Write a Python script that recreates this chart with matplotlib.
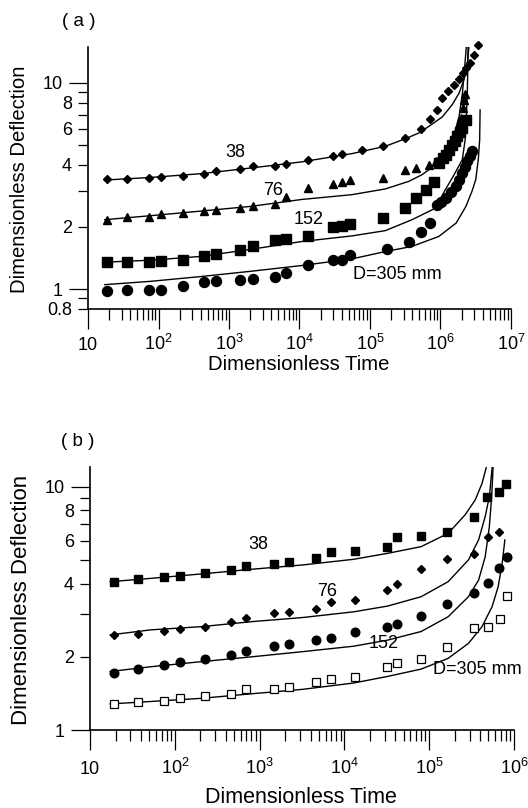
import matplotlib
matplotlib.use('Agg')
import matplotlib.pyplot as plt
from matplotlib.ticker import FixedLocator, FixedFormatter, FuncFormatter, NullFormatter

plt.rcParams['font.family'] = ['Liberation Sans', 'DejaVu Sans']
plt.rcParams['mathtext.default'] = 'regular'

# ---- panel (a) data ----
a38_t = [18.5, 35.6, 73, 109, 221, 440, 660, 1436, 2200, 4480, 6430, 13360, 29700, 39800,
         76900, 153000, 312000, 533000, 702000, 882000, 1.06e6, 1.29e6, 1.56e6, 1.83e6,
         2.09e6, 2.33e6, 2.63e6, 3.0e6, 3.4e6]
a38_y = [3.42, 3.42, 3.45, 3.50, 3.52, 3.63, 3.74, 3.82, 3.94, 3.97, 4.04, 4.21, 4.41, 4.50,
         4.75, 4.93, 5.39, 6.0, 6.69, 7.42, 8.43, 9.18, 9.82, 10.45, 11.18, 11.83, 12.5, 13.7, 15.3]
a76_t = [18.5, 35.6, 73, 109, 221, 440, 660, 1436, 2200, 4480, 6430, 13360, 29700, 39800,
         52500, 153000, 312000, 457000, 686000, 853000, 1.06e6, 1.32e6, 1.56e6, 1.74e6,
         1.94e6, 2.11e6, 2.19e6, 2.24e6]
a76_y = [2.17, 2.24, 2.24, 2.31, 2.34, 2.39, 2.43, 2.48, 2.52, 2.60, 2.79, 3.09, 3.23, 3.30,
         3.37, 3.46, 3.80, 3.87, 4.01, 4.17, 4.41, 4.84, 5.31, 5.94, 6.76, 7.56, 8.30, 8.84]
a152_t = [18.5, 35.6, 73, 109, 221, 440, 660, 1436, 2200, 4480, 6430, 13360, 29700, 39800,
          52500, 153000, 312000, 457000, 615000, 808000, 953000, 1.08e6, 1.19e6, 1.33e6,
          1.47e6, 1.6e6, 1.74e6, 1.9e6, 2.05e6, 2.28e6]
a152_y = [1.35, 1.35, 1.35, 1.36, 1.39, 1.45, 1.48, 1.54, 1.61, 1.72, 1.75, 1.81, 1.99, 2.03,
          2.07, 2.21, 2.47, 2.77, 3.03, 3.30, 4.09, 4.30, 4.49, 4.75, 5.02, 5.25, 5.51, 5.80,
          6.05, 6.59]
a305_t = [18.5, 35.6, 73, 109, 221, 440, 660, 1436, 2200, 4480, 6430, 13360, 29700, 39800,
          52500, 174000, 355000, 537000, 721000, 900000, 1.03e6, 1.18e6, 1.4e6, 1.64e6,
          1.85e6, 2.04e6, 2.2e6, 2.4e6, 2.6e6, 2.82e6]
a305_y = [0.974, 0.985, 0.993, 0.993, 1.03, 1.08, 1.09, 1.11, 1.12, 1.15, 1.20, 1.31, 1.38,
          1.39, 1.47, 1.57, 1.70, 1.90, 2.10, 2.55, 2.64, 2.77, 2.95, 3.15, 3.40, 3.66, 3.90,
          4.16, 4.40, 4.66]

# fitted curves of panel (a)
fa38_t = [17.3, 78, 404, 2080, 10700, 55300, 165000, 312000, 494000, 686000, 1.06e6, 1.47e6,
          1.84e6, 2.16e6, 2.41e6, 2.55e6]
fa38_y = [3.38, 3.48, 3.63, 3.87, 4.14, 4.54, 4.93, 5.35, 5.72, 6.16, 6.84, 7.85, 8.94, 10.4,
          12.5, 15.3]
fa76_t = [17.3, 78, 404, 2080, 10700, 55300, 165000, 355000, 550000, 853000, 1.18e6, 1.56e6,
          1.84e6, 2.05e6, 2.21e6, 2.34e6]
fa76_y = [2.17, 2.27, 2.39, 2.52, 2.72, 2.87, 3.06, 3.33, 3.59, 4.01, 4.66, 5.61, 6.89, 8.94,
          12.05, 15.3]
fa152_t = [17.3, 78, 404, 2080, 10700, 55300, 165000, 395000, 853000, 1.17e6, 1.5e6, 2.04e6,
           2.24e6, 2.4e6, 2.47e6]
fa152_y = [1.35, 1.38, 1.44, 1.56, 1.70, 1.81, 1.92, 2.17, 2.47, 3.03, 3.5, 4.24, 5.3, 8.5, 15.3]
fa305_t = [17.3, 78, 404, 2080, 10700, 55300, 165000, 395000, 948000, 1.67e6, 2.3e6, 2.82e6,
           3.17e6, 3.45e6, 3.6e6, 3.65e6]
fa305_y = [1.05, 1.09, 1.15, 1.22, 1.30, 1.40, 1.52, 1.61, 1.80, 2.09, 2.52, 3.0, 3.40, 4.3,
           5.3, 7.4]

# ---- panel (b) data ----
b38_t = [19, 36.8, 75, 114, 226, 454, 699, 1497, 2240, 4590, 6920, 13400, 31500, 41500,
         80200, 164000, 333000, 480000, 661000, 809000]
b38_y = [4.07, 4.17, 4.24, 4.31, 4.43, 4.55, 4.72, 4.81, 4.92, 5.08, 5.41, 5.46, 5.67, 6.23,
         6.27, 6.53, 7.48, 9.09, 9.53, 10.3]
b76_t = [19, 36.8, 75, 114, 226, 454, 699, 1497, 2240, 4590, 6920, 13400, 31500, 41500,
         80200, 164000, 333000, 493000, 661000]
b76_y = [2.46, 2.47, 2.56, 2.61, 2.66, 2.79, 2.88, 3.02, 3.06, 3.13, 3.35, 3.42, 3.76, 3.98,
         4.57, 5.03, 5.29, 6.19, 6.53]
b152_t = [19, 36.8, 75, 114, 226, 454, 699, 1497, 2240, 4590, 6920, 13400, 31500, 41500,
          80200, 164000, 333000, 493000, 661000, 832000]
b152_y = [1.72, 1.79, 1.85, 1.91, 1.96, 2.03, 2.12, 2.21, 2.25, 2.34, 2.40, 2.52, 2.66, 2.73,
          2.94, 3.30, 3.67, 4.03, 4.62, 5.12]
b305_t = [19, 36.8, 75, 114, 226, 454, 699, 1497, 2240, 4590, 6920, 13400, 31500, 41500,
          80200, 164000, 333000, 493000, 675000, 832000]
b305_y = [1.28, 1.30, 1.32, 1.35, 1.38, 1.41, 1.47, 1.47, 1.50, 1.58, 1.62, 1.65, 1.81, 1.89,
          1.95, 2.19, 2.62, 2.66, 2.87, 3.55]

fb38_t = [17.3, 52, 206, 817, 3240, 12800, 32100, 80200, 167000, 264000, 348000, 419000,
          468000, 480000]
fb38_y = [4.07, 4.2, 4.38, 4.58, 4.77, 5.03, 5.32, 5.67, 6.43, 7.65, 8.81, 10.3, 11.9, 12.6]
fb76_t = [17.3, 52, 206, 817, 3240, 12800, 32100, 80200, 167000, 290000, 382000, 457000,
          512000, 551000, 560000]
fb76_y = [2.46, 2.58, 2.66, 2.79, 2.90, 3.06, 3.23, 3.53, 4.07, 5.0, 6.04, 7.53, 9.1, 11.9, 12.6]
fb152_t = [17.3, 52, 206, 817, 3240, 12800, 32100, 80200, 167000, 290000, 382000, 457000,
           512000, 545000, 570000]
fb152_y = [1.74, 1.82, 1.91, 2.0, 2.10, 2.21, 2.34, 2.54, 2.92, 3.53, 4.13, 5.15, 6.85, 9.1, 12.6]
fb305_t = [17.3, 52, 206, 817, 3240, 12800, 32100, 80200, 167000, 290000, 419000, 551000,
           650000, 725000, 780000]
fb305_y = [1.28, 1.31, 1.35, 1.41, 1.47, 1.56, 1.66, 1.78, 1.97, 2.27, 2.66, 3.21, 3.88, 4.84,
           6.04]

xlabels_a = ['10', '$10^2$', '$10^3$', '$10^4$', '$10^5$', '$10^6$', '$10^7$']
xlabels_b = ['10', '$10^2$', '$10^3$', '$10^4$', '$10^5$', '$10^6$']
ylabeled_a = [0.8, 2, 4, 6, 8]
ylabeled_b = [2, 4, 6, 8]


def style_axes(ax, xlabels, ylim, yminor, ylabeled, fs, xpad):
    ax.set_xscale('log')
    ax.set_yscale('log')
    ax.set_xlim(10, 10 ** len(xlabels))
    ax.set_ylim(*ylim)
    for side in ('top', 'right'):
        ax.spines[side].set_visible(False)
    for side in ('left', 'bottom'):
        ax.spines[side].set_linewidth(1.2)
    decades = [10.0 ** k for k in range(1, len(xlabels) + 1)]
    ax.xaxis.set_major_locator(FixedLocator(decades))
    ax.xaxis.set_major_formatter(FixedFormatter(xlabels))
    xminor = [m * d for d in decades[:-1] for m in range(2, 10)]
    ax.xaxis.set_minor_locator(FixedLocator(xminor))
    ax.xaxis.set_minor_formatter(NullFormatter())
    ax.yaxis.set_major_locator(FixedLocator([1, 10]))
    ax.yaxis.set_major_formatter(FixedFormatter(['1', '10']))
    ax.yaxis.set_minor_locator(FixedLocator(yminor))
    ax.yaxis.set_minor_formatter(FuncFormatter(
        lambda v, p: ('%g' % v) if any(abs(v - q) < 1e-6 for q in ylabeled) else ''))
    ax.tick_params(axis='both', which='both', direction='out', width=0.9, labelsize=fs)
    ax.tick_params(axis='x', which='major', length=14.5, pad=xpad)
    ax.tick_params(axis='x', which='minor', length=8)
    ax.tick_params(axis='y', which='major', length=14, pad=4)
    ax.tick_params(axis='y', which='minor', length=7.5, pad=4)
    for lbl in ax.get_xticklabels():
        lbl.set_verticalalignment('baseline')
    ax.xaxis.label.set_verticalalignment('baseline')


fig = plt.figure(figsize=(5.28, 8.08), dpi=100)
ax_a = fig.add_axes([0.1667, 0.6176, 0.801, 0.3246])
ax_b = fig.add_axes([0.1705, 0.0965, 0.803, 0.325])

line_kw = dict(color='black', linewidth=1.0, zorder=2)
mk_kw = dict(linestyle='none', color='black', zorder=3, clip_on=False)

# panel (a)
for t, y in ((fa38_t, fa38_y), (fa76_t, fa76_y), (fa152_t, fa152_y), (fa305_t, fa305_y)):
    ax_a.plot(t, y, **line_kw)
ax_a.plot(a38_t, a38_y, marker='D', markersize=4.2, **mk_kw)
ax_a.plot(a76_t, a76_y, marker='^', markersize=5.8, **mk_kw)
ax_a.plot(a152_t, a152_y, marker='s', markersize=6.6, **mk_kw)
ax_a.plot(a305_t, a305_y, marker='o', markersize=7.2, **mk_kw)
style_axes(ax_a, xlabels_a, (0.8, 15), [0.8, 0.9] + list(range(2, 10)), ylabeled_a, 13, 15)
ax_a.set_xlabel('Dimensionless Time', fontsize=14.6)
ax_a.set_ylabel('Dimensionless Deflection', fontsize=14.6)
ax_a.xaxis.set_label_coords(0.497, -0.233)
ax_a.yaxis.set_label_coords(-0.139, 0.496)
for txt, tx, ty in (('38', 1216, 4.61), ('76', 4240, 3.0), ('152', 13600, 2.17),
                    ('D=305 mm', 243000, 1.17)):
    ax_a.text(tx, ty, txt, fontsize=13, ha='center', va='center')

# panel (b)
for t, y in ((fb38_t, fb38_y), (fb76_t, fb76_y), (fb152_t, fb152_y), (fb305_t, fb305_y)):
    ax_b.plot(t, y, **line_kw)
ax_b.plot(b38_t, b38_y, marker='s', markersize=5.8, **mk_kw)
ax_b.plot(b76_t, b76_y, marker='D', markersize=3.9, **mk_kw)
ax_b.plot(b152_t, b152_y, marker='o', markersize=6.2, **mk_kw)
ax_b.plot(b305_t, b305_y, marker='s', markersize=5.2, markerfacecolor='white',
          markeredgewidth=0.9, linestyle='none', color='black', zorder=3, clip_on=False)
style_axes(ax_b, xlabels_b, (1, 12), list(range(2, 10)), ylabeled_b, 13, 17.5)
ax_b.set_xlabel('Dimensionless Time', fontsize=15.5)
ax_b.set_ylabel('Dimensionless Deflection', fontsize=16)
ax_b.xaxis.set_label_coords(0.497, -0.278)
ax_b.yaxis.set_label_coords(-0.137, 0.495)
for txt, tx, ty in (('38', 964, 5.81), ('76', 6310, 3.70), ('152', 29200, 2.27),
                    ('D=305 mm', 370000, 1.78)):
    ax_b.text(tx, ty, txt, fontsize=13, ha='center', va='center', clip_on=False)

fig.text(0.150, 0.974, '( a )', fontsize=13.5, ha='center', va='center')
fig.text(0.148, 0.453, '( b )', fontsize=13.5, ha='center', va='center')

fig.savefig('out.png', dpi=100)
